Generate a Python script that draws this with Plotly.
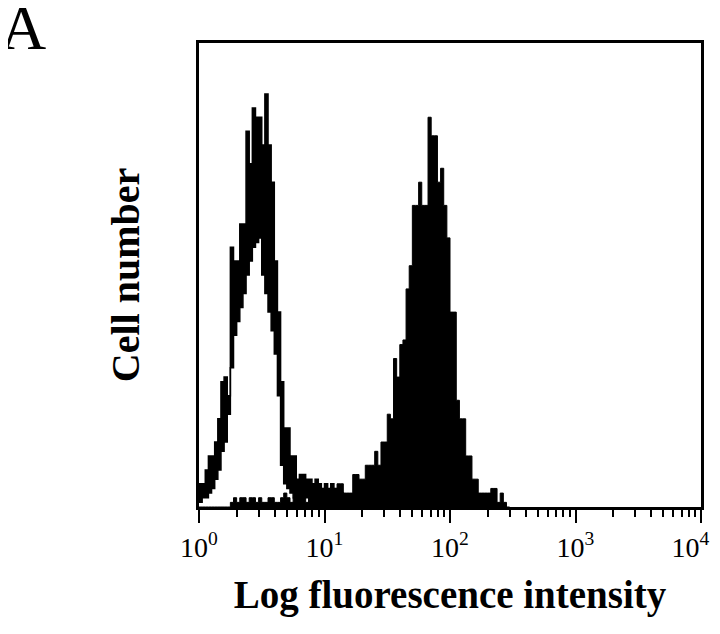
import plotly.graph_objects as go

# flow cytometry histogram, 40 channels per decade starting at 10^0
CH_PER_DECADE = 40

# control (open) histogram: outer and inner edges of the jagged outline
open_upper = [5, 5, 8, 11, 11, 14, 19, 27, 28, 24,
              56, 53, 53, 61, 61, 81, 74, 86, 84, 84,
              78, 89, 78, 70, 53, 42, 27, 17, 17, 11,
              11, 6, 7, 7, 6, 6, 5, 6, 5, 4,
              5, 4, 5, 4, 3, 3, 2, 2, 1, 1,
              1, 1, 0, 0, 0, 0]
open_lower = [1, 2, 2, 3, 4, 6, 8, 12, 14, 20,
              30, 37, 40, 43, 46, 50, 53, 56, 57, 58,
              50, 46, 42, 38, 33, 24, 9, 5, 4, 3,
              2, 2, 2, 2, 2, 1, 1, 1, 1, 1,
              1, 1, 1, 1, 1, 1, 0, 0, 0, 0,
              0, 0, 0, 0, 0, 0]

# stained (filled) histogram
filled = [0, 0, 0, 0, 0, 0, 0, 0, 0, 0,
          1, 2, 1, 2, 2, 1, 2, 2, 1, 2,
          1, 1, 2, 2, 1, 1, 2, 3, 2, 1,
          2, 2, 3, 2, 1, 3, 3, 2, 3, 4,
          3, 2, 3, 4, 5, 5, 3, 3, 3, 7,
          7, 6, 6, 9, 9, 9, 12, 9, 14, 14,
          20, 19, 32, 28, 35, 36, 47, 52, 65, 65,
          70, 65, 65, 84, 80, 80, 70, 73, 65, 58,
          42, 42, 23, 19, 19, 11, 11, 6, 6, 3,
          3, 3, 3, 4, 4, 1, 3, 1, 0]

tick_vals = [1, 10, 100, 1000, 10000]
# last label padded so it stays inside the right edge
tick_text = ["10<sup>0</sup>", "10<sup>1</sup>", "10<sup>2</sup>", "10<sup>3</sup>",
             "10<sup>4</sup>&nbsp;&nbsp;&nbsp;"]
minor_vals = [m * d for d in [1, 10, 100, 1000] for m in range(2, 10)]

SERIF = "Liberation Serif, Times New Roman, serif"


def edges(values):
    # left edge of each channel plus the closing edge
    xs = [10 ** (i / CH_PER_DECADE) for i in range(len(values) + 1)]
    return xs, list(values) + [values[-1]]


fig = go.Figure()

x, y = edges(open_lower)
fig.add_trace(go.Scatter(x=x, y=y, mode="lines", line=dict(color="black", width=1.5, shape="hv"),
                         hoverinfo="skip"))
x, y = edges(open_upper)
fig.add_trace(go.Scatter(x=x, y=y, mode="lines", line=dict(color="black", width=1.5, shape="hv"),
                         fill="tonexty", fillcolor="black", hoverinfo="skip"))
x, y = edges(filled)
fig.add_trace(go.Scatter(x=x, y=y, mode="lines", line=dict(color="black", width=1, shape="hv"),
                         fill="tozeroy", fillcolor="black", hoverinfo="skip"))

# page body adds an 8px offset, so the figure is 8px smaller than the window
fig.update_layout(
    width=712,
    height=626,
    showlegend=False,
    plot_bgcolor="white",
    paper_bgcolor="white",
    margin=dict(l=191, r=19, t=35, b=127, autoexpand=False),
    font=dict(family=SERIF, color="black"),
    xaxis=dict(
        type="log",
        range=[0, 4],
        automargin=False,
        tickvals=tick_vals,
        ticktext=tick_text,
        ticks="outside",
        ticklen=13,
        tickwidth=2,
        tickcolor="black",
        tickfont=dict(size=28, family=SERIF),
        ticklabeloverflow="allow",
        minor=dict(tickvals=minor_vals, ticks="outside", ticklen=7, tickwidth=2, tickcolor="black"),
        showgrid=False,
        zeroline=False,
        showline=True,
        linewidth=3,
        linecolor="black",
        mirror=True,
        title=dict(text="Log fluorescence intensity", standoff=20,
                   font=dict(size=39, family=SERIF, weight="bold")),
    ),
    yaxis=dict(
        range=[0, 100],
        automargin=False,
        showticklabels=False,
        ticks="",
        showgrid=False,
        zeroline=False,
        showline=True,
        linewidth=3,
        linecolor="black",
        mirror=True,
        title=dict(text="Cell number", standoff=45,
                   font=dict(size=40, family=SERIF, weight="bold")),
    ),
    annotations=[
        dict(text="A", xref="paper", yref="paper", x=-0.40, y=1.033,
             xanchor="left", yanchor="middle", showarrow=False,
             font=dict(size=64, family=SERIF, color="black")),
    ],
)

fig.write_html("out.html")
